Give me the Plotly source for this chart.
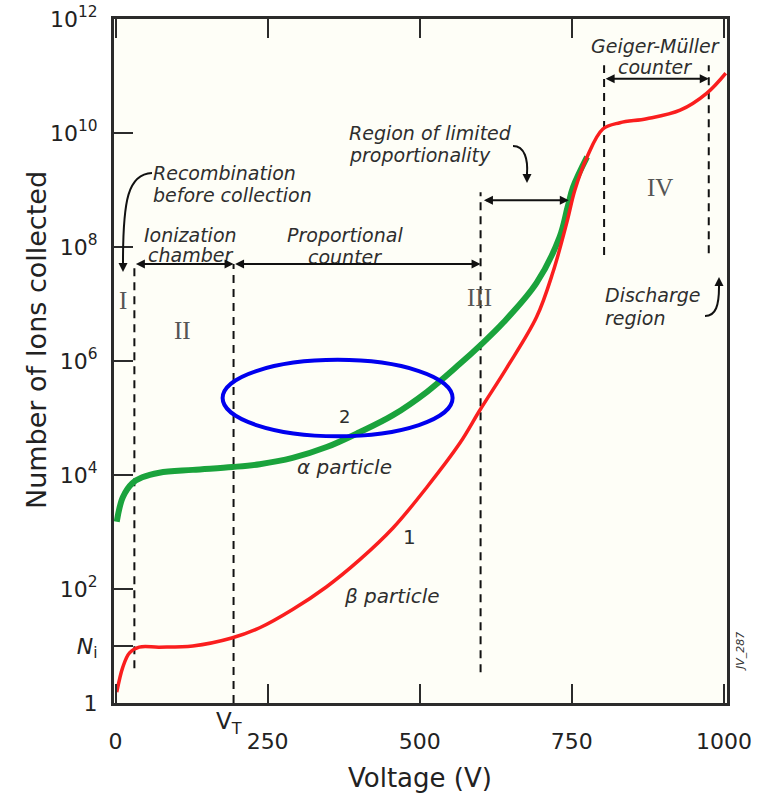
import plotly.graph_objects as go

# ---------------- data ----------------
alpha_voltage = [2, 12, 28, 44, 72, 127, 192, 237, 291, 347, 401, 456, 512, 566, 599, 637,
                 692, 730, 743, 752, 775]
alpha_log_ions = [3.18, 3.61, 3.86, 3.96, 4.04, 4.09, 4.14, 4.19, 4.30, 4.49, 4.75, 5.05, 5.46, 5.95, 6.27, 6.67,
                  7.37, 8.18, 8.70, 9.05, 9.58]

beta_voltage = [2, 12, 23, 39, 72, 127, 191, 237, 291, 347, 401, 456, 512, 566, 599, 643,
                692, 719, 742, 755, 775, 801, 829, 873, 928, 972, 1003]
beta_log_ions = [0.19, 0.63, 0.88, 0.98, 0.98, 1.00, 1.14, 1.32, 1.64, 2.04, 2.51, 3.07, 3.79, 4.56, 5.14, 5.88,
                 6.77, 7.56, 8.44, 9.00, 9.58, 10.07, 10.18, 10.25, 10.40, 10.70, 11.05]

boundary_voltage = [31, 194, 600, 803, 975]
boundary_low_log = [0.61, 0.0, 0.54, 7.86, 7.89]
boundary_high_log = [7.70, 7.70, 8.96, 11.19, 11.19]

x_tick_vals = [0, 250, 500, 750, 1000]
y_tick_vals = [1, 10, 1e2, 1e4, 1e6, 1e8, 1e10, 1e12]
y_tick_text = ["1", "<i>N</i><sub>i</sub>", "10<sup>2</sup>", "10<sup>4</sup>", "10<sup>6</sup>",
               "10<sup>8</sup>", "10<sup>10</sup>", "10<sup>12</sup>"]
right_tick_vals = [1e2, 1e4, 1e6, 1e8, 1e10]

alpha_ions = [10 ** v for v in alpha_log_ions]
beta_ions = [10 ** v for v in beta_log_ions]

# ---------------- figure geometry ----------------
W, H = 757, 799
L_M, R_M, T_M, B_M = 114, 30, 19, 96
PW, PH = W - L_M - R_M, H - T_M - B_M


def px(x):  # pixel -> paper x
    return (x - L_M) / PW


def py(y):  # pixel -> paper y
    return (H - B_M - y) / PH


INK = "#2b2b2b"
TXT = "#2e2e2e"
FONT = "DejaVu Sans"

fig = go.Figure()

# dashed region boundaries
for v, lo, hi in zip(boundary_voltage, boundary_low_log, boundary_high_log):
    fig.add_trace(go.Scatter(x=[v, v], y=[10 ** lo, 10 ** hi], mode="lines",
                             line=dict(color="#111111", width=2, dash="8px,6px"),
                             hoverinfo="skip", showlegend=False))

fig.add_trace(go.Scatter(x=alpha_voltage, y=alpha_ions, mode="lines",
                         line=dict(color="#1aa33c", width=6, shape="spline", smoothing=1.0),
                         name="α particle", showlegend=False))
fig.add_trace(go.Scatter(x=beta_voltage, y=beta_ions, mode="lines",
                         line=dict(color="#fa1e1e", width=3.5, shape="spline", smoothing=1.0),
                         name="β particle", showlegend=False))

annotations = []


def label(x, y, s, size=19, anchor="center", color=TXT, family=FONT, xref="x", yref="y", angle=0):
    annotations.append(dict(x=x, y=y, xref=xref, yref=yref, text=s, showarrow=False,
                            xanchor=anchor, yanchor="middle", textangle=angle,
                            font=dict(family=family, size=size, color=color)))


# region texts (x in volts, y in log10 ions)
label(59, 9.30, "<i>Recombination</i>", anchor="left")
label(59, 8.91, "<i>before collection</i>", anchor="left")
label(123, 8.21, "<i>Ionization</i>")
label(123, 7.86, "<i>chamber</i>")
label(377, 8.21, "<i>Proportional</i>")
label(377, 7.83, "<i>counter</i>")
label(380, 10.00, "<i>Region of limited</i>", anchor="left")
label(380, 9.61, "<i>proportionality</i>", anchor="left")
label(887, 11.53, "<i>Geiger-Müller</i>")
label(887, 11.15, "<i>counter</i>")
label(801, 7.16, "<i>Discharge</i>", anchor="left")
label(801, 6.76, "<i>region</i>", anchor="left")
label(377, 4.14, "<i>α particle</i>", size=20)
label(454, 1.88, "<i>β particle</i>", size=20)
label(483, 2.91, "1", size=20)
label(377, 5.02, "2", size=18)

# roman numerals
for v, lg, s in [(11.5, 7.07, "I"), (110, 6.54, "II"), (599, 7.12, "III"), (895, 9.05, "IV")]:
    label(v, lg, s, size=25, color="#555555", family="Liberation Serif")

# axis titles and extra labels
label(px(420), py(778), "Voltage (V)", size=26, color="#222222", xref="paper", yref="paper")
label(px(36), py(340), "Number of Ions collected", size=27, color="#222222",
      xref="paper", yref="paper", angle=-90)
label(186, py(723), "V<sub>T</sub>", size=23, color="#222222", yref="paper")
label(px(740), py(651), "<i>JV_287</i>", size=11, color="#333333", xref="paper", yref="paper", angle=-90)

# double-headed horizontal arrows (x volts, y log10)
for x0, x1, lg in [(31, 194, 7.70), (194, 600, 7.70), (603, 745, 8.82), (803, 975, 10.95)]:
    annotations.append(dict(x=x1, y=lg, ax=x0, ay=lg, xref="x", yref="y", axref="x", ayref="y",
                            text="", showarrow=True, arrowhead=2, arrowsize=0.9, arrowwidth=2,
                            arrowside="end+start", arrowcolor="#111111", standoff=0, startstandoff=0))

# arrowheads of curved pointers (paper coords)
for hx, hy, dy in [(123, 272, -12), (527, 183, -12), (719, 277, 12)]:
    annotations.append(dict(x=px(hx), y=py(hy), xref="paper", yref="paper", ax=0, ay=dy,
                            text="", showarrow=True, arrowhead=2, arrowsize=0.9, arrowwidth=2,
                            arrowcolor="#111111", standoff=0))


def curve(p0, c1, c2, p1):
    pts = [p0, c1, c2, p1]
    q = [(px(a), py(b)) for a, b in pts]
    return "M {} {} C {} {}, {} {}, {} {}".format(q[0][0], q[0][1], q[1][0], q[1][1],
                                                   q[2][0], q[2][1], q[3][0], q[3][1])


shapes = [
    dict(type="path", xref="paper", yref="paper",
         path=curve((152, 173), (128, 174), (123, 200), (123, 262)),
         line=dict(color="#111111", width=2)),
    dict(type="path", xref="paper", yref="paper",
         path=curve((513, 146), (525, 146), (528, 160), (527, 174)),
         line=dict(color="#111111", width=2)),
    dict(type="path", xref="paper", yref="paper",
         path=curve((705, 316), (716, 316), (719, 305), (719, 287)),
         line=dict(color="#111111", width=2)),
    # blue highlight ellipse around label 2 (x in volts, y in ions)
    dict(type="circle", xref="x", yref="y", x0=176, x1=554, y0=10 ** 4.68, y1=10 ** 6.02,
         line=dict(color="#0000ee", width=4)),
]

axis_common = dict(showgrid=False, zeroline=False, showline=True, linewidth=3, linecolor=INK,
                   ticks="inside", ticklen=19, tickwidth=2, tickcolor=INK, automargin=False,
                   tickfont=dict(family=FONT, size=22, color="#222222"))

fig.update_layout(
    width=W, height=H,
    margin=dict(l=L_M, r=R_M, t=T_M, b=B_M, autoexpand=False),
    paper_bgcolor="white",
    plot_bgcolor="#fefef7",
    font=dict(family=FONT, color=TXT),
    xaxis=dict(range=[-2.5, 1005], tickvals=x_tick_vals, mirror="ticks",
               ticklabelstandoff=17, **axis_common),
    yaxis=dict(type="log", range=[0, 12], tickvals=y_tick_vals, ticktext=y_tick_text,
               mirror=True, ticklabelstandoff=9, **axis_common),
    yaxis2=dict(type="log", range=[0, 12], overlaying="y", side="right", anchor="x",
                tickvals=right_tick_vals, showticklabels=False, showgrid=False, zeroline=False,
                showline=False, ticks="inside", ticklen=19, tickwidth=2, tickcolor=INK,
                automargin=False),
    annotations=annotations,
    shapes=shapes,
    showlegend=False,
)

fig.write_html("out.html", config={"displayModeBar": False},
               post_script="document.body.style.margin='0px';document.body.style.overflow='hidden';")
